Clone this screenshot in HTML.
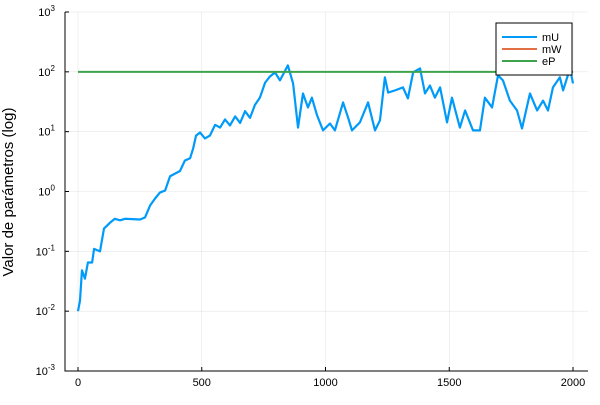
<!DOCTYPE html>
<html><head><meta charset="utf-8"><style>
body{margin:0;background:#fff}
svg{font-family:"Liberation Sans",sans-serif}
</style></head><body>
<svg width="600" height="400" id="c">
<rect x="0" y="0" width="600" height="400" fill="#fff"/>
<text x="13" y="192" transform="rotate(-90 13 192)" text-anchor="middle" font-size="15" fill="#000">Valor de parámetros (log)</text>
</svg>
<script>
const ts=[0,8,16,28,40,57,65,89,105,129,149,170,190,251,271,291,311,331,352,372,412,432,453,465,477,493,513,533,554,574,594,614,635,655,675,695,715,735,756,776,796,816,848,869,889,909,929,945,966,990,1018,1038,1071,1091,1107,1139,1172,1200,1220,1240,1253,1281,1313,1333,1354,1382,1402,1422,1442,1463,1491,1511,1543,1564,1596,1624,1644,1673,1697,1717,1745,1774,1794,1826,1855,1879,1899,1919,1947,1960,1988,2000];
const mU=[0.01,0.015,0.048,0.035,0.065,0.065,0.11,0.10,0.24,0.30,0.35,0.33,0.35,0.34,0.37,0.58,0.76,0.96,1.04,1.8,2.2,3.3,3.6,5.2,8.6,9.7,7.7,8.6,13,11.7,16,12.7,18,14,22,17,28,37,66,84,98,72,128,64,11.7,43.5,25.4,37,18.7,10.5,13.7,10.5,30.8,17.3,10.5,14.3,30.8,10.5,15.4,81,45,49,55,36,98,114,43.5,59,37,55,14.3,37,11.7,22.6,10.5,10.5,37,25.4,87,72,33,22.6,11.3,43.5,22.6,33,22.6,55,81,49,114,64];
const eP=[100,100];
const ePts=[0,2000];
const xTicks=[0,500,1000,1500,2000];
const yExps=[-3,-2,-1,0,1,2,3];
const L=65,R=588,T=12,B=371;
const sx=t=>78+(t-0)*(573-78)/2000;
const sy=v=>B-(Math.log10(v)+3)*(B-T)/6;
const svg=document.getElementById('c');
const NS='http://www.w3.org/2000/svg';
function mk(tag,attrs){const e=document.createElementNS(NS,tag);for(const k in attrs)e.setAttribute(k,attrs[k]);svg.appendChild(e);return e;}
xTicks.forEach(t=>{
 const g=mk('line',{x1:sx(t),x2:sx(t),y1:T,y2:B,stroke:'#000','stroke-opacity':0.1,'stroke-width':0.6});
 
 
 const tx=mk('text',{x:sx(t),y:386,'text-anchor':'middle','font-size':11});
 tx.textContent=t;
 
 
});
yExps.forEach(e=>{
 const y=sy(Math.pow(10,e));
 const g=mk('line',{x1:L,x2:R,y1:y,y2:y,stroke:'#000','stroke-opacity':0.1,'stroke-width':0.6});
 
 
 const tk=mk('line',{x1:L,x2:L+4,y1:y,y2:y,stroke:'#000','stroke-width':1});
 
 
 const tx=mk('text',{x:55,y:y+4,'text-anchor':'end','font-size':11});
 tx.innerHTML='10<tspan dy="-5" font-size="8">'+e+'</tspan>';
 
 
});
const ax=mk('path',{d:`M${L},${T}V${B}H${R}`,fill:'none',stroke:'#000','stroke-width':1});


xTicks.forEach(t=>{const k=mk('line',{x1:sx(t),x2:sx(t),y1:B,y2:B-4,stroke:'#000'});
 
 });
const pU=mk('polyline',{points:ts.map((t,i)=>sx(t)+','+sy(mU[i])).join(' '),fill:'none',stroke:'#009af9','stroke-width':2.2,'stroke-linejoin':'round'});


const pP=mk('polyline',{points:ePts.map((t,i)=>sx(t)+','+sy(eP[i])).join(' '),fill:'none',stroke:'#3da44d','stroke-width':2});


const lg=mk('rect',{x:496,y:23,width:76,height:52,fill:'#fff',stroke:'#000','stroke-width':1});


[['mU','#009af9'],['mW','#e26f46'],['eP','#3da44d']].forEach((s,i)=>{
 const y=37+i*12;
 const l=mk('line',{x1:502,x2:537,y1:y,y2:y,stroke:s[1],'stroke-width':2});
 
 
 const t=mk('text',{x:542,y:y+4,'font-size':11});
 t.textContent=s[0];
 
 
});
</script>
</body></html>
